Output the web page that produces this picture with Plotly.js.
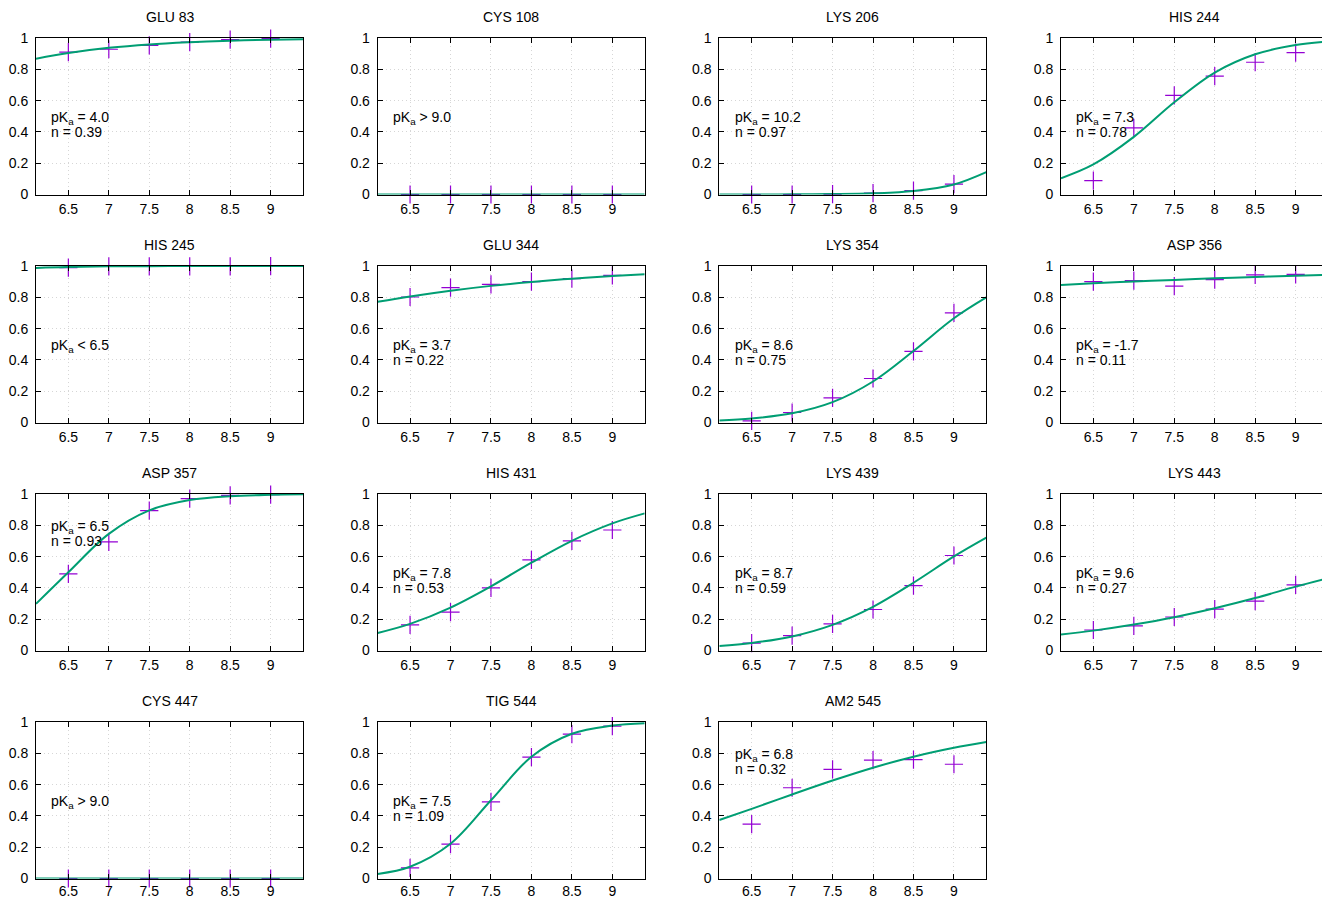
<!DOCTYPE html>
<html><head><meta charset="utf-8">
<script src="https://cdn.plot.ly/plotly-3.0.1.min.js"></script>
<style>html,body{margin:0;padding:0;overflow:hidden;background:#fff}</style>
</head><body><div id="chart" style="width:1330px;height:899px"></div>
<script>
// ---- data ----
const residues = ['GLU 83','CYS 108','LYS 206','HIS 244','HIS 245','GLU 344','LYS 354','ASP 356',
                  'ASP 357','HIS 431','LYS 439','LYS 443','CYS 447','TIG 544','AM2 545'];
const pH = [6.5, 7, 7.5, 8, 8.5, 9];
const fitPH = [6.1, 6.5, 7, 7.5, 8, 8.5, 9, 9.4];
const observed = [
  [0.910, 0.928, 0.953, 0.974, 0.989, 0.996],
  [0, 0, 0, 0, 0, 0],
  [0, 0, 0.003, 0.009, 0.025, 0.066],
  [0.089, 0.426, 0.634, 0.757, 0.845, 0.906],
  [0.990, 0.997, 0.998, 0.998, 0.998, 0.999],
  [0.802, 0.862, 0.883, 0.900, 0.919, 0.940],
  [0.011, 0.064, 0.157, 0.281, 0.455, 0.700],
  [0.900, 0.906, 0.872, 0.913, 0.943, 0.947],
  [0.489, 0.694, 0.894, 0.970, 0.991, 0.996],
  [0.164, 0.245, 0.400, 0.579, 0.700, 0.770],
  [0.047, 0.095, 0.170, 0.262, 0.415, 0.607],
  [0.131, 0.157, 0.214, 0.265, 0.316, 0.419],
  [0, 0, 0, 0, 0, 0],
  [0.068, 0.220, 0.489, 0.776, 0.923, 0.974],
  [0.347, 0.580, 0.697, 0.756, 0.760, 0.730]
];
const fitted = [
  [0.868, 0.904, 0.937, 0.959, 0.973, 0.983, 0.989, 0.992],
  [0, 0, 0, 0, 0, 0, 0, 0],
  [0.0001, 0.0003, 0.0008, 0.0024, 0.0073, 0.022, 0.064, 0.143],
  [0.104, 0.192, 0.368, 0.589, 0.779, 0.896, 0.955, 0.978],
  [0.988, 0.994, 0.998, 0.999, 1, 1, 1, 1],
  [0.771, 0.805, 0.842, 0.873, 0.898, 0.919, 0.936, 0.947],
  [0.013, 0.026, 0.059, 0.130, 0.262, 0.457, 0.666, 0.799],
  [0.878, 0.889, 0.901, 0.911, 0.921, 0.930, 0.938, 0.943],
  [0.298, 0.500, 0.745, 0.895, 0.961, 0.986, 0.995, 0.998],
  [0.112, 0.170, 0.274, 0.410, 0.561, 0.701, 0.812, 0.876],
  [0.028, 0.048, 0.090, 0.164, 0.279, 0.433, 0.601, 0.721],
  [0.102, 0.127, 0.166, 0.213, 0.270, 0.335, 0.408, 0.462],
  [0, 0, 0, 0, 0, 0, 0, 0],
  [0.029, 0.075, 0.222, 0.500, 0.778, 0.925, 0.977, 0.992],
  [0.374, 0.445, 0.537, 0.626, 0.708, 0.778, 0.835, 0.872]
];
const pKaLabels = ['= 4.0','> 9.0','= 10.2','= 7.3','< 6.5','= 3.7','= 8.6','= -1.7',
                   '= 6.5','= 7.8','= 8.7','= 9.6','> 9.0','= 7.5','= 6.8'];
const nLabels = ['0.39', null, '0.97', '0.78', null, '0.22', '0.75', '0.11',
                 '0.93', '0.53', '0.59', '0.27', null, '1.09', '0.32'];
const xTickVals = [6.5, 7, 7.5, 8, 8.5, 9];
const xTickText = ['6.5', '7', '7.5', '8', '8.5', '9'];
const yTickVals = [0, 0.2, 0.4, 0.6, 0.8, 1];
const yTickText = ['0', '0.2', '0.4', '0.6', '0.8', '1'];

// ---- layout geometry (pixels) ----
const W = 1330, H = 899;
const colLeft = [36, 377.7, 719.3, 1061];
const rowTop = [38, 266, 494, 722];
const pw = 267, ph = 156.5;
const xStandoff = [2, 2, 2, 0];
const labelTop = [0.49,0.49,0.49,0.49,0.49,0.49,0.49,0.49,0.79,0.49,0.49,0.49,0.49,0.49,0.79];

const FONT = 'Liberation Sans, Arial, Helvetica, sans-serif';
const PURPLE = '#9400d3', GREEN = '#009e73';
const traces = [];
const layout = {
  width: W, height: H, margin: {l: 0, r: 0, t: 0, b: 0},
  paper_bgcolor: '#fff', plot_bgcolor: '#fff', showlegend: false,
  font: {family: FONT, size: 14, color: '#000'},
  annotations: []
};

residues.forEach((name, i) => {
  const r = Math.floor(i / 4), c = i % 4;
  const k = i === 0 ? '' : String(i + 1);
  const xa = 'x' + k, ya = 'y' + k;
  const x0 = colLeft[c] / W, x1 = (colLeft[c] + pw) / W;
  const y1 = 1 - rowTop[r] / H, y0 = 1 - (rowTop[r] + ph) / H;
  const common = {
    showline: true, linecolor: '#000', linewidth: 1, mirror: 'ticks',
    ticks: 'inside', ticklen: 5, tickwidth: 1, tickcolor: '#000',
    showgrid: true, gridcolor: '#d6d6d6', gridwidth: 1, griddash: '1px,3px',
    zeroline: false, fixedrange: true, tickfont: {family: FONT, size: 14, color: '#000'}
  };
  layout['xaxis' + k] = Object.assign({}, common, {
    domain: [x0, x1], range: [6.1, 9.4], anchor: ya,
    tickmode: 'array', tickvals: xTickVals, ticktext: xTickText, ticklabelstandoff: xStandoff[r]
  });
  layout['yaxis' + k] = Object.assign({}, common, {
    domain: [y0, y1], range: [0, 1], anchor: xa,
    tickmode: 'array', tickvals: yTickVals, ticktext: yTickText, ticklabelstandoff: 4
  });
  traces.push({
    x: pH, y: observed[i], xaxis: xa, yaxis: ya, type: 'scatter', mode: 'markers',
    cliponaxis: false, hoverinfo: 'skip',
    marker: {symbol: 'cross-thin-open', size: 13, color: PURPLE, line: {color: PURPLE, width: 1.2}}
  });
  traces.push({
    x: fitPH, y: fitted[i], xaxis: xa, yaxis: ya, type: 'scatter', mode: 'lines',
    hoverinfo: 'skip', line: {color: GREEN, width: 2, shape: 'spline', smoothing: 1}
  });
  layout.annotations.push({
    text: name, xref: xa + ' domain', yref: ya + ' domain', x: 0.5, y: 1,
    xanchor: 'center', yanchor: 'middle', yshift: 21, showarrow: false,
    font: {family: FONT, size: 14, color: '#000'}
  });
  layout.annotations.push({
    text: 'pK<sub>a</sub> ' + pKaLabels[i], xref: xa + ' domain', yref: ya + ' domain',
    x: 0.05, y: labelTop[i], xanchor: 'left', yanchor: 'middle', showarrow: false,
    font: {family: FONT, size: 14, color: '#000'}
  });
  if (nLabels[i] !== null) {
    layout.annotations.push({
      text: 'n = ' + nLabels[i], xref: xa + ' domain', yref: ya + ' domain',
      x: 0.05, y: labelTop[i] - 0.09, xanchor: 'left', yanchor: 'middle', showarrow: false,
      font: {family: FONT, size: 14, color: '#000'}
    });
  }
});

Plotly.newPlot('chart', traces, layout, {displayModeBar: false, staticPlot: true});
</script>
</body></html>
